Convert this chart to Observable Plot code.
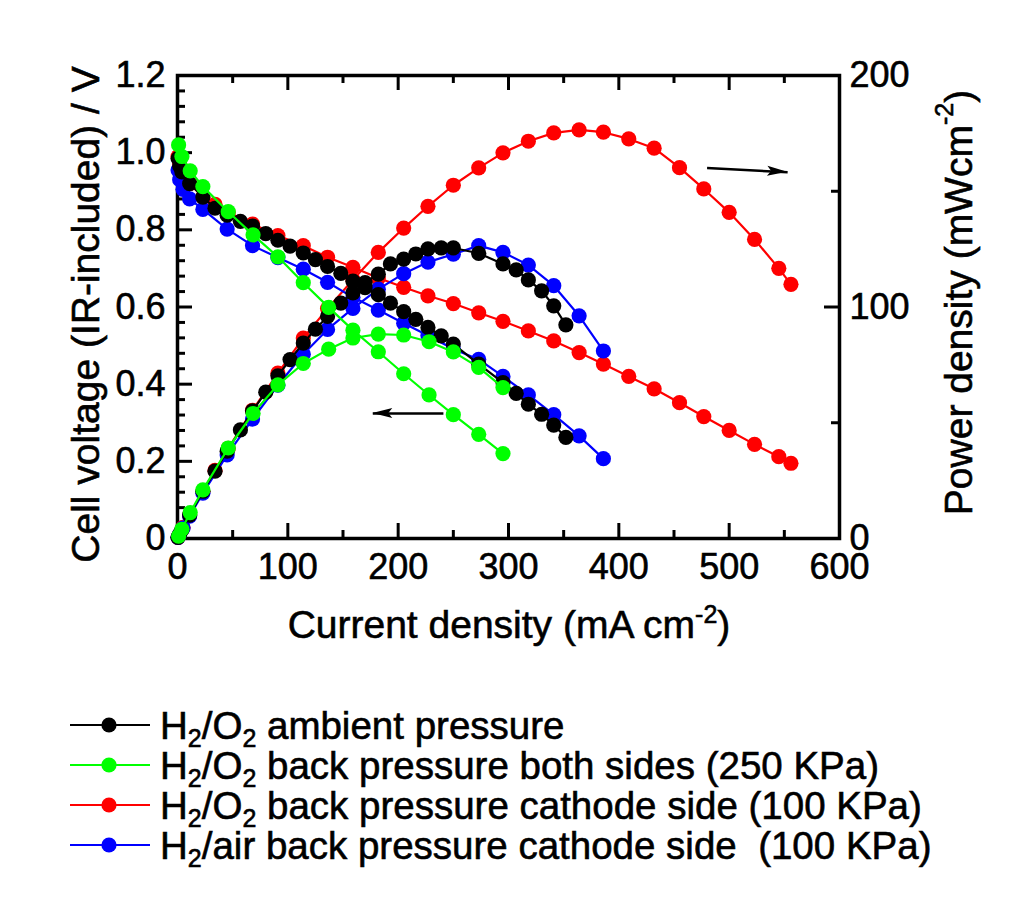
<!DOCTYPE html>
<html>
<head>
<meta charset="utf-8">
<script src="https://cdn.jsdelivr.net/npm/d3@7"></script>
<script src="https://cdn.jsdelivr.net/npm/@observablehq/plot@0.6"></script>
<style>
  html, body { margin: 0; padding: 0; background: #fff; }
  #wrap { width: 1022px; position: relative; }
  svg { display: block; }
  svg text { stroke: black; stroke-width: 0.6px; }
</style>
</head>
<body>
<div id="wrap"></div>
<script>
// ---------- Data ----------
// Current density (mA cm-2), cell voltage (V), power density (mW cm-2)
// H2/O2 ambient pressure (black)
const blackCurrent = [0.5, 2, 4, 11, 23, 34, 45, 57, 68, 80, 91, 102, 114, 125, 136, 148, 159, 170, 182, 193, 205, 216, 227, 239, 250, 273, 295, 307, 318, 330, 341, 352];
const blackVoltage = [0.985, 0.965, 0.95, 0.92, 0.885, 0.856, 0.838, 0.822, 0.81, 0.79, 0.773, 0.758, 0.74, 0.723, 0.705, 0.687, 0.667, 0.65, 0.632, 0.61, 0.588, 0.568, 0.547, 0.525, 0.504, 0.452, 0.404, 0.376, 0.348, 0.322, 0.294, 0.262];
const blackPower   = [0.5, 1.9, 3.8, 10.1, 20.4, 29.1, 37.7, 46.9, 55.1, 63.2, 70.3, 77.3, 84.4, 90.4, 95.9, 101.7, 106.1, 110.5, 114.2, 118.6, 120.7, 122.9, 125.1, 125.5, 125.5, 123.2, 118.6, 116, 111.7, 107, 100.5, 92.3];

// H2/O2 back pressure both sides 250 KPa (green)
const greenCurrent = [1, 4, 11.5, 23, 46, 68.5, 91, 114, 137, 159, 182, 205, 228, 250, 273, 295];
const greenVoltage = [1.02, 0.99, 0.953, 0.912, 0.847, 0.787, 0.73, 0.663, 0.599, 0.54, 0.484, 0.427, 0.372, 0.321, 0.27, 0.22];
const greenPower   = [1.0, 4.0, 11.2, 21.0, 39.1, 54.0, 66.4, 75.6, 81.8, 86.6, 88.3, 87.9, 85.0, 80.6, 73.9, 65.2];

// H2/O2 back pressure cathode side 100 KPa (red)
const redCurrent = [0.5, 2, 5, 11, 23, 34, 46, 68, 91, 114, 136, 159, 182, 205, 227, 250, 273, 295, 318, 341, 364, 386, 409, 432, 455, 477, 500, 523, 545, 556];
const redVoltage = [0.99, 0.97, 0.95, 0.92, 0.885, 0.866, 0.845, 0.815, 0.785, 0.759, 0.729, 0.703, 0.675, 0.651, 0.629, 0.609, 0.585, 0.563, 0.538, 0.512, 0.482, 0.452, 0.42, 0.388, 0.352, 0.316, 0.28, 0.244, 0.212, 0.195];
const redPower   = [0.5, 1.9, 4.8, 10.1, 20.4, 29.4, 38.9, 55.4, 71.4, 86.6, 99.3, 111.8, 123.6, 134.1, 143.5, 152.6, 160.1, 166.6, 171.6, 175.2, 176.5, 175.5, 172.6, 168.6, 160.2, 151, 140.9, 129.2, 116.7, 109.8];

// H2/air back pressure cathode side 100 KPa (blue)
const blueCurrent = [0.5, 2, 5, 11, 23, 45, 68, 91, 114, 136, 159, 182, 205, 227, 250, 273, 295, 318, 341, 364, 386];
const blueVoltage = [0.955, 0.93, 0.905, 0.88, 0.853, 0.802, 0.759, 0.728, 0.698, 0.664, 0.625, 0.592, 0.558, 0.526, 0.491, 0.464, 0.42, 0.372, 0.321, 0.266, 0.207];
const bluePower   = [0.5, 1.9, 4.5, 9.7, 19.6, 36.1, 51.6, 66.2, 79.6, 90.3, 99.4, 107.7, 114.4, 119.4, 122.8, 126.5, 123.6, 118.1, 109.2, 96.2, 81];

// Axis ticks
const xLabelTicks = [0, 100, 200, 300, 400, 500, 600];
const xMinorTicks = [50, 150, 250, 350, 450, 550];
const yLabelTicks = [0, 0.2, 0.4, 0.6, 0.8, 1.0, 1.2];
const yMinorTicks = [0.04, 0.08, 0.12, 0.16, 0.24, 0.28, 0.32, 0.36, 0.44, 0.48, 0.52, 0.56, 0.64, 0.68, 0.72, 0.76, 0.84, 0.88, 0.92, 0.96, 1.04, 1.08, 1.12, 1.16];
const powerLabelTicks = [0, 100, 200];
const powerMinorTicks = [50, 150];

// Annotation arrows (current, voltage-axis units)
const arrowStartX = [480, 241];
const arrowEndX   = [553, 177];
const arrowStartY = [0.96, 0.324];
const arrowEndY   = [0.949, 0.324];

const legendLabels = [
  ["H", "2", "/O", "2", " ambient pressure"],
  ["H", "2", "/O", "2", " back pressure both sides (250 KPa)"],
  ["H", "2", "/O", "2", " back pressure cathode side (100 KPa)"],
  ["H", "2", "/air back pressure cathode side  (100 KPa)"]
];
const colors = ["#000000", "#00ff00", "#ff0000", "#0000ff"];

// ---------- Build ----------
const powerMax = 200, voltMax = 1.2;
const k = voltMax / powerMax;
const rowsOf = (xs, vs, ps) => xs.map((x, i) => ({x, v: vs[i], p: ps[i] * k}));
const blackRows = rowsOf(blackCurrent, blackVoltage, blackPower);
const greenRows = rowsOf(greenCurrent, greenVoltage, greenPower);
const redRows = rowsOf(redCurrent, redVoltage, redPower);
const blueRows = rowsOf(blueCurrent, blueVoltage, bluePower);

const W = 1022, H = 680, mL = 177, mR = 183, mT = 75, mB = 142;
const plotH = H - mT - mB, plotW = W - mL - mR;
const font = "'Liberation Sans', Arial, Helvetica, sans-serif";

function seriesMarks(rows, color) {
  return [
    Plot.line(rows, {x: "x", y: "v", stroke: color, strokeWidth: 2.2}),
    Plot.dot(rows, {x: "x", y: "v", r: 7.6, fill: color, stroke: "none"}),
    Plot.line(rows, {x: "x", y: "p", stroke: color, strokeWidth: 2.2}),
    Plot.dot(rows, {x: "x", y: "p", r: 7.6, fill: color, stroke: "none"})
  ];
}

const arrows = arrowStartX.map((x1, i) => ({x1, x2: arrowEndX[i], y1: arrowStartY[i], y2: arrowEndY[i]}));

const chart = Plot.plot({
  width: W, height: H,
  marginLeft: mL, marginRight: mR, marginTop: mT, marginBottom: mB,
  x: {domain: [0, 600]},
  y: {domain: [0, voltMax]},
  style: {fontFamily: font, fontSize: "36px", color: "black", background: "white", overflow: "visible"},
  marks: [
    // inward ticks
    Plot.tickX(xLabelTicks, {x: d => d, insetTop: plotH - 15, stroke: "black", strokeWidth: 3}),
    Plot.tickX(xMinorTicks, {x: d => d, insetTop: plotH - 8, stroke: "black", strokeWidth: 3}),
    Plot.tickX(xLabelTicks, {x: d => d, insetBottom: plotH - 15, stroke: "black", strokeWidth: 3}),
    Plot.tickX(xMinorTicks, {x: d => d, insetBottom: plotH - 8, stroke: "black", strokeWidth: 3}),
    Plot.tickY(yLabelTicks, {y: d => d, insetRight: plotW - 15, stroke: "black", strokeWidth: 3}),
    Plot.tickY(yMinorTicks, {y: d => d, insetRight: plotW - 8, stroke: "black", strokeWidth: 3}),
    Plot.tickY(powerLabelTicks, {y: d => d * k, insetLeft: plotW - 15, stroke: "black", strokeWidth: 3}),
    Plot.tickY(powerMinorTicks, {y: d => d * k, insetLeft: plotW - 8, stroke: "black", strokeWidth: 3}),
    Plot.frame({stroke: "black", strokeWidth: 3.5}),
    Plot.axisX({ticks: xLabelTicks, tickSize: 0, tickPadding: 15, label: null, tickFormat: d => String(d)}),
    Plot.axisY({anchor: "left", ticks: yLabelTicks, tickSize: 0, tickPadding: 12, label: null,
                tickFormat: d => d === 0 ? "0" : d.toFixed(1)}),
    Plot.axisY({anchor: "right", ticks: powerLabelTicks.map(d => d * k), tickSize: 0, tickPadding: 10, label: null,
                tickFormat: d => String(Math.round(d / k))}),
    ...seriesMarks(redRows, colors[2]),
    ...seriesMarks(blueRows, colors[3]),
    ...seriesMarks(blackRows, colors[0]),
    ...seriesMarks(greenRows, colors[1]),
    Plot.link(arrows, {x1: "x1", y1: "y1", x2: "x2", y2: "y2", stroke: "black", strokeWidth: 2.5})
  ]
});

const svg = d3.select(chart);
const sx = chart.scale("x"), sy = chart.scale("y");
// filled arrowheads
arrows.forEach(a => {
  const X1 = sx.apply(a.x1), Y1 = sy.apply(a.y1), X2 = sx.apply(a.x2), Y2 = sy.apply(a.y2);
  const dx = X2 - X1, dy = Y2 - Y1, L = Math.hypot(dx, dy);
  const ux = dx / L, uy = dy / L, hl = 20, hw = 5;
  const bx = X2 - ux * hl, by = Y2 - uy * hl;
  const pts = [[X2, Y2], [bx - uy * hw, by + ux * hw], [bx + ux * 4, by + uy * 4], [bx + uy * hw, by - ux * hw]];
  svg.append("polygon").attr("points", pts.map(p => p.join(",")).join(" ")).attr("fill", "black");
});

// axis titles
svg.append("text")
  .attr("transform", `translate(85,${mT + plotH / 2 + 8}) rotate(-90)`)
  .attr("text-anchor", "middle").attr("dominant-baseline", "central")
  .attr("font-family", font).attr("font-size", 39).attr("fill", "black")
  .text("Cell voltage (IR-included) / V");

const right = svg.append("text")
  .attr("transform", `translate(958,${mT + plotH / 2 - 4}) rotate(-90)`)
  .attr("text-anchor", "middle").attr("dominant-baseline", "central")
  .attr("font-family", font).attr("font-size", 39).attr("fill", "black");
right.append("tspan").text("Power density (mWcm");
right.append("tspan").attr("font-size", 25).attr("dy", -14).text("-2");
right.append("tspan").attr("dy", 14).text(")");

const xl = svg.append("text")
  .attr("x", 509).attr("y", 638)
  .attr("text-anchor", "middle")
  .attr("font-family", font).attr("font-size", 39).attr("fill", "black");
xl.append("tspan").text("Current density (mA cm");
xl.append("tspan").attr("font-size", 25).attr("dy", -15).text("-2");
xl.append("tspan").attr("dy", 15).text(")");

document.getElementById("wrap").appendChild(chart);

// ---------- Legend (below the chart) ----------
const LH = 919 - H;
const leg = d3.select("#wrap").append("svg").attr("width", W).attr("height", LH)
  .attr("font-family", font).style("background", "white");
legendLabels.forEach((parts, i) => {
  const cy = 45 + i * 40;
  const color = colors[i];
  leg.append("line").attr("x1", 70).attr("x2", 150).attr("y1", cy).attr("y2", cy)
    .attr("stroke", color).attr("stroke-width", 2.2);
  leg.append("circle").attr("cx", 109).attr("cy", cy).attr("r", 7.6).attr("fill", color);
  const t = leg.append("text").attr("x", 160).attr("y", cy + 14).attr("font-size", 38.5)
    .attr("fill", "black").attr("xml:space", "preserve").style("white-space", "pre");
  parts.forEach((p, j) => {
    if (p === "2") {
      t.append("tspan").attr("font-size", 25).attr("dy", 8).text("2");
    } else {
      const s = t.append("tspan").text(p);
      if (j > 0 && parts[j - 1] === "2") s.attr("dy", -8);
    }
  });
});
</script>
</body>
</html>
